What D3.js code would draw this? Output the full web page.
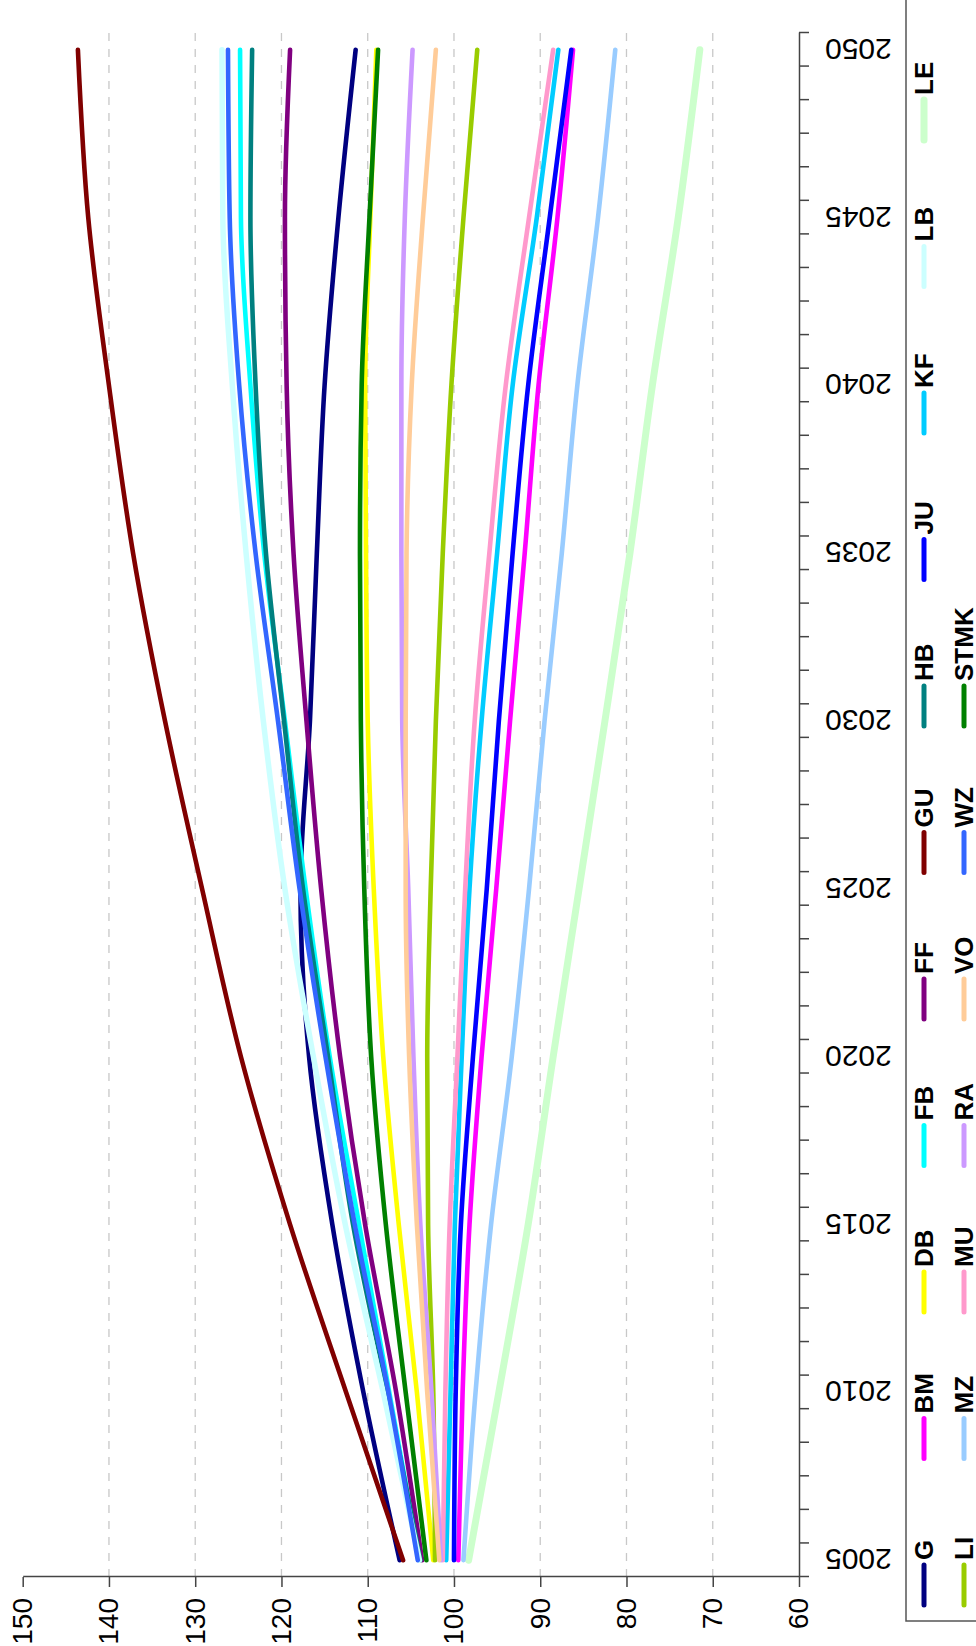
<!DOCTYPE html>
<html><head><meta charset="utf-8">
<script src="https://cdn.jsdelivr.net/npm/d3@7"></script>
<style>html,body{margin:0;padding:0;background:#fff;} svg{display:block;}</style>
</head><body>
<svg id="chart" width="976" height="1646"></svg>
<script>
// ---- data ----
const years = [2005,2010,2015,2020,2025,2030,2035,2040,2045,2050];
const yearLabels = [2005,2010,2015,2020,2025,2030,2035,2040,2045,2050];
const valueTicks = [60,70,80,90,100,110,120,130,140,150];
const gridValues = [70,80,90,100,110,120,130,140];

const G    = [106.3,110.5,114.1,116.8,117.8,116.7,115.9,115.0,113.4,111.4];
const BM   = [99.5,99.0,98.2,96.8,95.1,93.5,91.8,90.2,88.0,86.2];
const DB   = [102.4,104.3,106.4,108.2,109.3,110.0,110.2,110.3,109.7,109.0];
const FB   = [104.0,107.5,111.0,114.4,117.2,119.6,122.0,123.6,124.7,124.8];
const FF   = [103.7,106.7,110.3,113.2,115.4,117.1,118.6,119.4,119.6,119.0];
const GU   = [105.9,112.5,119.0,124.7,129.2,133.5,137.2,140.0,142.4,143.6];
const HB   = [103.9,107.7,111.7,114.6,117.5,119.7,121.8,123.0,123.6,123.4];
const JU   = [100.0,99.8,99.2,97.8,96.2,94.8,93.2,91.4,88.9,86.4];
const KF   = [100.9,100.4,99.9,99.1,98.2,96.8,95.0,93.2,90.4,87.9];
const LB   = [104.0,108.2,112.6,116.3,119.6,122.1,124.1,125.7,126.8,126.9];
const LE   = [98.3,94.8,91.4,88.5,85.5,82.5,79.6,77.0,74.0,71.5];
const LI   = [102.2,102.4,103.0,103.1,102.7,102.1,101.3,100.3,98.9,97.3];
const MZ   = [98.9,97.5,95.7,93.3,91.3,89.5,87.5,85.7,83.3,81.3];
const MU   = [101.3,101.0,100.5,99.6,98.7,97.6,95.9,94.0,91.3,88.5];
const RA   = [101.5,102.6,103.9,104.7,105.3,106.0,106.1,106.1,105.7,104.8];
const VO   = [101.7,103.1,104.3,105.2,105.6,105.6,105.5,104.9,103.6,102.1];
const WZ   = [104.2,107.6,111.5,114.9,117.9,120.4,123.0,124.9,126.0,126.2];
const STMK = [103.2,105.6,107.9,109.6,110.4,110.8,110.9,110.7,109.8,108.8];

const seriesNames = ["G","BM","DB","FB","FF","GU","HB","JU","KF","LB","LE","LI","MZ","MU","RA","VO","WZ","STMK"];
const seriesValues = [G,BM,DB,FB,FF,GU,HB,JU,KF,LB,LE,LI,MZ,MU,RA,VO,WZ,STMK];
const seriesColors = ["#000080","#FF00FF","#FFFF00","#00FFFF","#800080","#800000","#008080","#0000FF","#00CCFF","#CCFFFF","#CCFFCC","#99CC00","#99CCFF","#FF99CC","#CC99FF","#FFCC99","#3366FF","#008000"];

// ---- drawing (chart built upright, then rotated 90° counter-clockwise) ----
const W = 1646, H = 976;
const svg = d3.select("#chart");
const g = svg.append("g").attr("transform", `translate(0,${W}) rotate(-90)`);
const font = "'Liberation Sans', Arial, Helvetica, sans-serif";

const x = d3.scaleLinear().domain([2004.5, 2050.5]).range([69, 1613]);
const y = d3.scaleLinear().domain([60, 150]).range([799, 22.7]);

// grid
g.append("g").selectAll("line").data(gridValues).join("line")
  .attr("x1", x(2004.5)).attr("x2", x(2050.5))
  .attr("y1", d => y(d)).attr("y2", d => y(d))
  .attr("stroke", "#c8c8c8").attr("stroke-width", 1.3).attr("stroke-dasharray", "8,8");

// value axis
const ya = g.append("g").attr("transform", "translate(69,0)")
  .call(d3.axisLeft(y).tickValues(valueTicks).tickSize(10).tickSizeOuter(0).tickPadding(11).tickFormat(d3.format("d")));
ya.select(".domain").attr("stroke", "#444").attr("stroke-width", 1.5);
ya.selectAll(".tick line").attr("stroke", "#444").attr("stroke-width", 1.5);
ya.selectAll("text").attr("font-family", font).attr("font-size", 28).attr("fill", "#000");

// year axis ticks
const yearTicks = d3.range(2004.5, 2050.6, 1);
const xa = g.append("g").attr("transform", "translate(0,799)")
  .call(d3.axisBottom(x).tickValues(yearTicks).tickSize(10).tickSizeOuter(0).tickFormat(""));
xa.select(".domain").attr("stroke", "#444").attr("stroke-width", 1.5);
xa.selectAll(".tick line").attr("stroke", "#444").attr("stroke-width", 1.5);

// year labels
const xl = g.append("g").attr("transform", "translate(0,799)")
  .call(d3.axisBottom(x).tickValues(yearLabels).tickSize(0).tickSizeOuter(0).tickFormat(d3.format("d")));
xl.select(".domain").remove();
xl.selectAll("text").attr("font-family", font).attr("font-size", 30).attr("fill", "#000")
  .attr("transform", "rotate(-90)").attr("text-anchor", "end")
  .attr("x", -26).attr("y", 0).attr("dy", "0.35em");

// lines
const line = d3.line().x((d, i) => x(years[i])).y(d => y(d)).curve(d3.curveMonotoneX);
g.append("g").selectAll("path").data(seriesValues).join("path")
  .attr("d", d => line(d))
  .attr("fill", "none")
  .attr("stroke", (d, i) => seriesColors[i])
  .attr("stroke-width", (d, i) => seriesNames[i] === "LE" ? 7 : (seriesNames[i] === "LB" ? 5.5 : 4.6))
  .attr("stroke-linecap", "round").attr("stroke-linejoin", "round");

// legend
const lg = g.append("g");
lg.append("rect").attr("x", 25).attr("y", 906).attr("width", 1640).attr("height", 120)
  .attr("fill", "none").attr("stroke", "#555").attr("stroke-width", 1.5);
const legendItems = seriesNames.map((n, i) => ({n, c: seriesColors[i], col: i < 11 ? i : i - 11, row: i < 11 ? 0 : 1}));
const item = lg.selectAll("g.item").data(legendItems).join("g")
  .attr("transform", d => `translate(${61 + d.col * 146.5},${924 + d.row * 40})`);
item.append("line").attr("x1", -20).attr("x2", 20).attr("y1", 0).attr("y2", 0)
  .attr("stroke", d => d.c).attr("stroke-width", d => d.n === "LE" ? 7 : 5).attr("stroke-linecap", "round");
item.append("text").attr("x", 25).attr("y", 0).attr("dy", "0.36em")
  .attr("font-family", font).attr("font-weight", "bold").attr("font-size", 26).attr("fill", "#000")
  .text(d => d.n);
</script>
</body></html>
